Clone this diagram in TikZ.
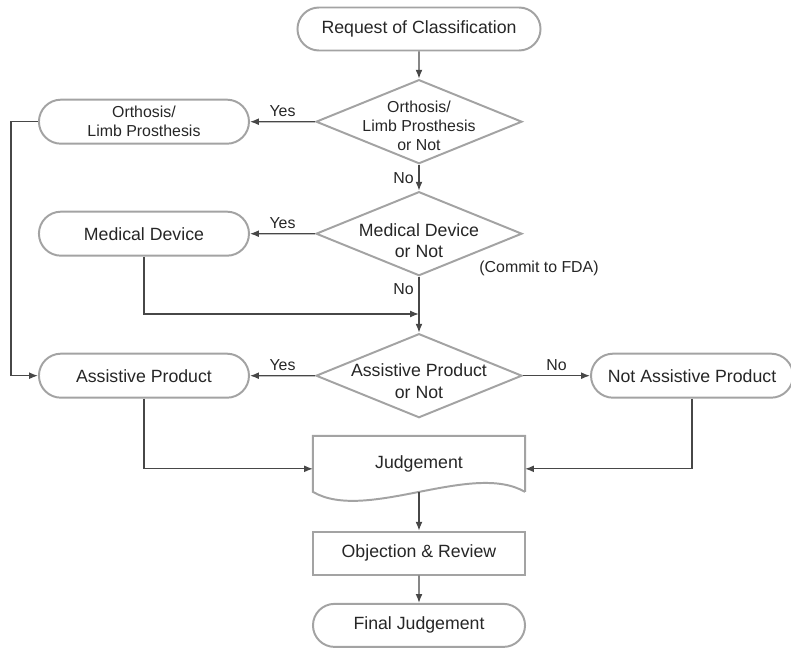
\documentclass[tikz,border=0pt]{standalone}
\usepackage{fontspec}
\setmainfont{Liberation Sans}
\usetikzlibrary{arrows.meta,positioning,shapes.geometric,shapes.misc,calc}
\definecolor{boxgray}{HTML}{A3A3A3}
\definecolor{linegray}{HTML}{474747}
\definecolor{txtgray}{HTML}{262626}

\begin{document}
\begin{tikzpicture}[
  x=0.025cm, y=-0.025cm,
  font=\fontsize{12.6}{15.5}\selectfont, text=txtgray,
  term/.style={rounded rectangle,draw=boxgray,line width=1.4pt,align=center,minimum width=5.25cm,minimum height=1.1cm,inner sep=0pt},
  decision/.style={diamond,draw=boxgray,line width=1.4pt,minimum width=5.15cm,minimum height=2.1cm,inner sep=0pt},
  proc/.style={rectangle,draw=boxgray,line width=1.4pt,minimum width=5.3cm,minimum height=1.075cm},
  small/.style={font=\fontsize{11.3}{13.5}\selectfont},
  arrow/.style={-{Latex[length=2.2mm,width=1.7mm]},draw=linegray,line width=0.9pt},
  link/.style={draw=linegray,line width=0.9pt}]
\useasboundingbox (0,0) rectangle (791,649);
% main column
\node[term,minimum width=6.075cm,minimum height=1.075cm] (req) at (419,29) {Request of Classification};
\node[decision,below=0.68cm of req,label={[small,align=center,yshift=-3pt]center:Orthosis/\\Limb Prosthesis\\or Not}] (d1) {};
\node[decision,below=0.65cm of d1,label={[align=center,yshift=-5pt]center:Medical Device\\or Not}] (d2) {};
\node[decision,below=1.4cm of d2,label={[align=center,yshift=-4pt]center:Assistive Product\\or Not}] (d3) {};
\node[minimum width=5.3cm,minimum height=1.4cm,outer sep=0pt,below=0.43cm of d3] (judge) {Judgement};
\node[proc,below=0.97cm of judge] (obj) {Objection \& Review};
\node[term,minimum width=5.3cm,minimum height=1.075cm,below=0.68cm of obj] (final) {Final Judgement};
% side boxes
\node[term,small,left=1.625cm of d1] (ortho) {Orthosis/\\Limb Prosthesis};
\node[term,left=1.625cm of d2] (med) {Medical Device};
\node[term,left=1.625cm of d3] (assist) {Assistive Product};
\node[term,minimum width=5.05cm,right=1.675cm of d3] (notap) {Not Assistive Product};
\node[small] (fda) at (539,268) {(Commit to FDA)};
\coordinate (mj) at (419,314);
% document outline
\draw[draw=boxgray,line width=1.4pt] (judge.south east) -- (judge.north east) -- (judge.north west) -- (judge.south west)
  .. controls ($(judge.south west)+(1.325cm,-0.775cm)$) and ($(judge.south east)+(-1.325cm,0.775cm)$) .. (judge.south east);
% connectors
\draw[arrow] (req) -- (d1);
\draw[arrow] (d1) -- node[left,small]{No} (d2);
\draw[arrow] (d2) -- node[left,small,pos=0.22]{No} (d3);
\draw[arrow] (d1) -- node[above,small]{Yes} (ortho);
\draw[arrow] (d2) -- node[above,small]{Yes} (med);
\draw[arrow] (d3) -- node[above,small]{Yes} (assist);
\draw[arrow] (d3) -- node[above,small]{No} (notap);
\draw[arrow] (med.south) |- (mj);
\draw[arrow] (ortho.west) -- ++(-27,0) |- (assist.west);
\draw[arrow] (assist.south) |- ([yshift=-3.5pt]judge.west);
\draw[arrow] (notap.south) |- ([yshift=-3.5pt]judge.east);
\draw[arrow] (judge.south) -- (obj);
\draw[arrow] (obj) -- (final);
\end{tikzpicture}
\end{document}
